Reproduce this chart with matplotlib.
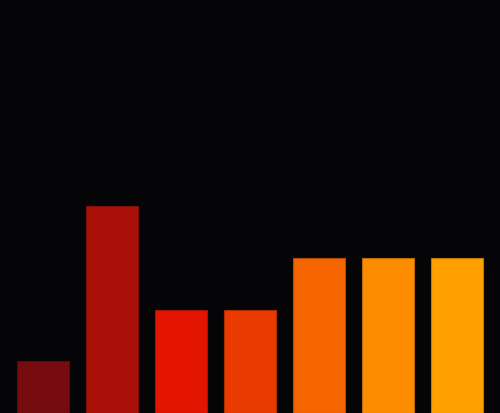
import matplotlib
matplotlib.use("Agg")
import matplotlib.pyplot as plt

# bar values
categories = ["A", "B", "C", "D", "E", "F", "G"]
values = [1, 4, 2, 2, 3, 3, 3]
colors = ["#760c10", "#ab1008", "#e31500", "#e93a00", "#f66400", "#fe8c00", "#ffa000"]

bg = "#050406"

fig = plt.figure(figsize=(5.0, 4.14), dpi=100, facecolor=bg)
ax = fig.add_axes([0, 0, 1, 1], facecolor=bg)

x = list(range(len(categories)))
ax.bar(x, values, width=0.754, color=colors, edgecolor=[c for c in colors],
       linewidth=0.8)
# thin darker outline like the reference
for patch in ax.patches:
    r, g, b, a = patch.get_facecolor()
    patch.set_edgecolor((r * 0.75, g * 0.75, b * 0.75, 1))

ax.set_xlim(3 - 250 / 69, 3 + 250 / 69)
ax.set_ylim(0, 8)
ax.axis("off")

fig.savefig("out.png", dpi=100, facecolor=bg)
